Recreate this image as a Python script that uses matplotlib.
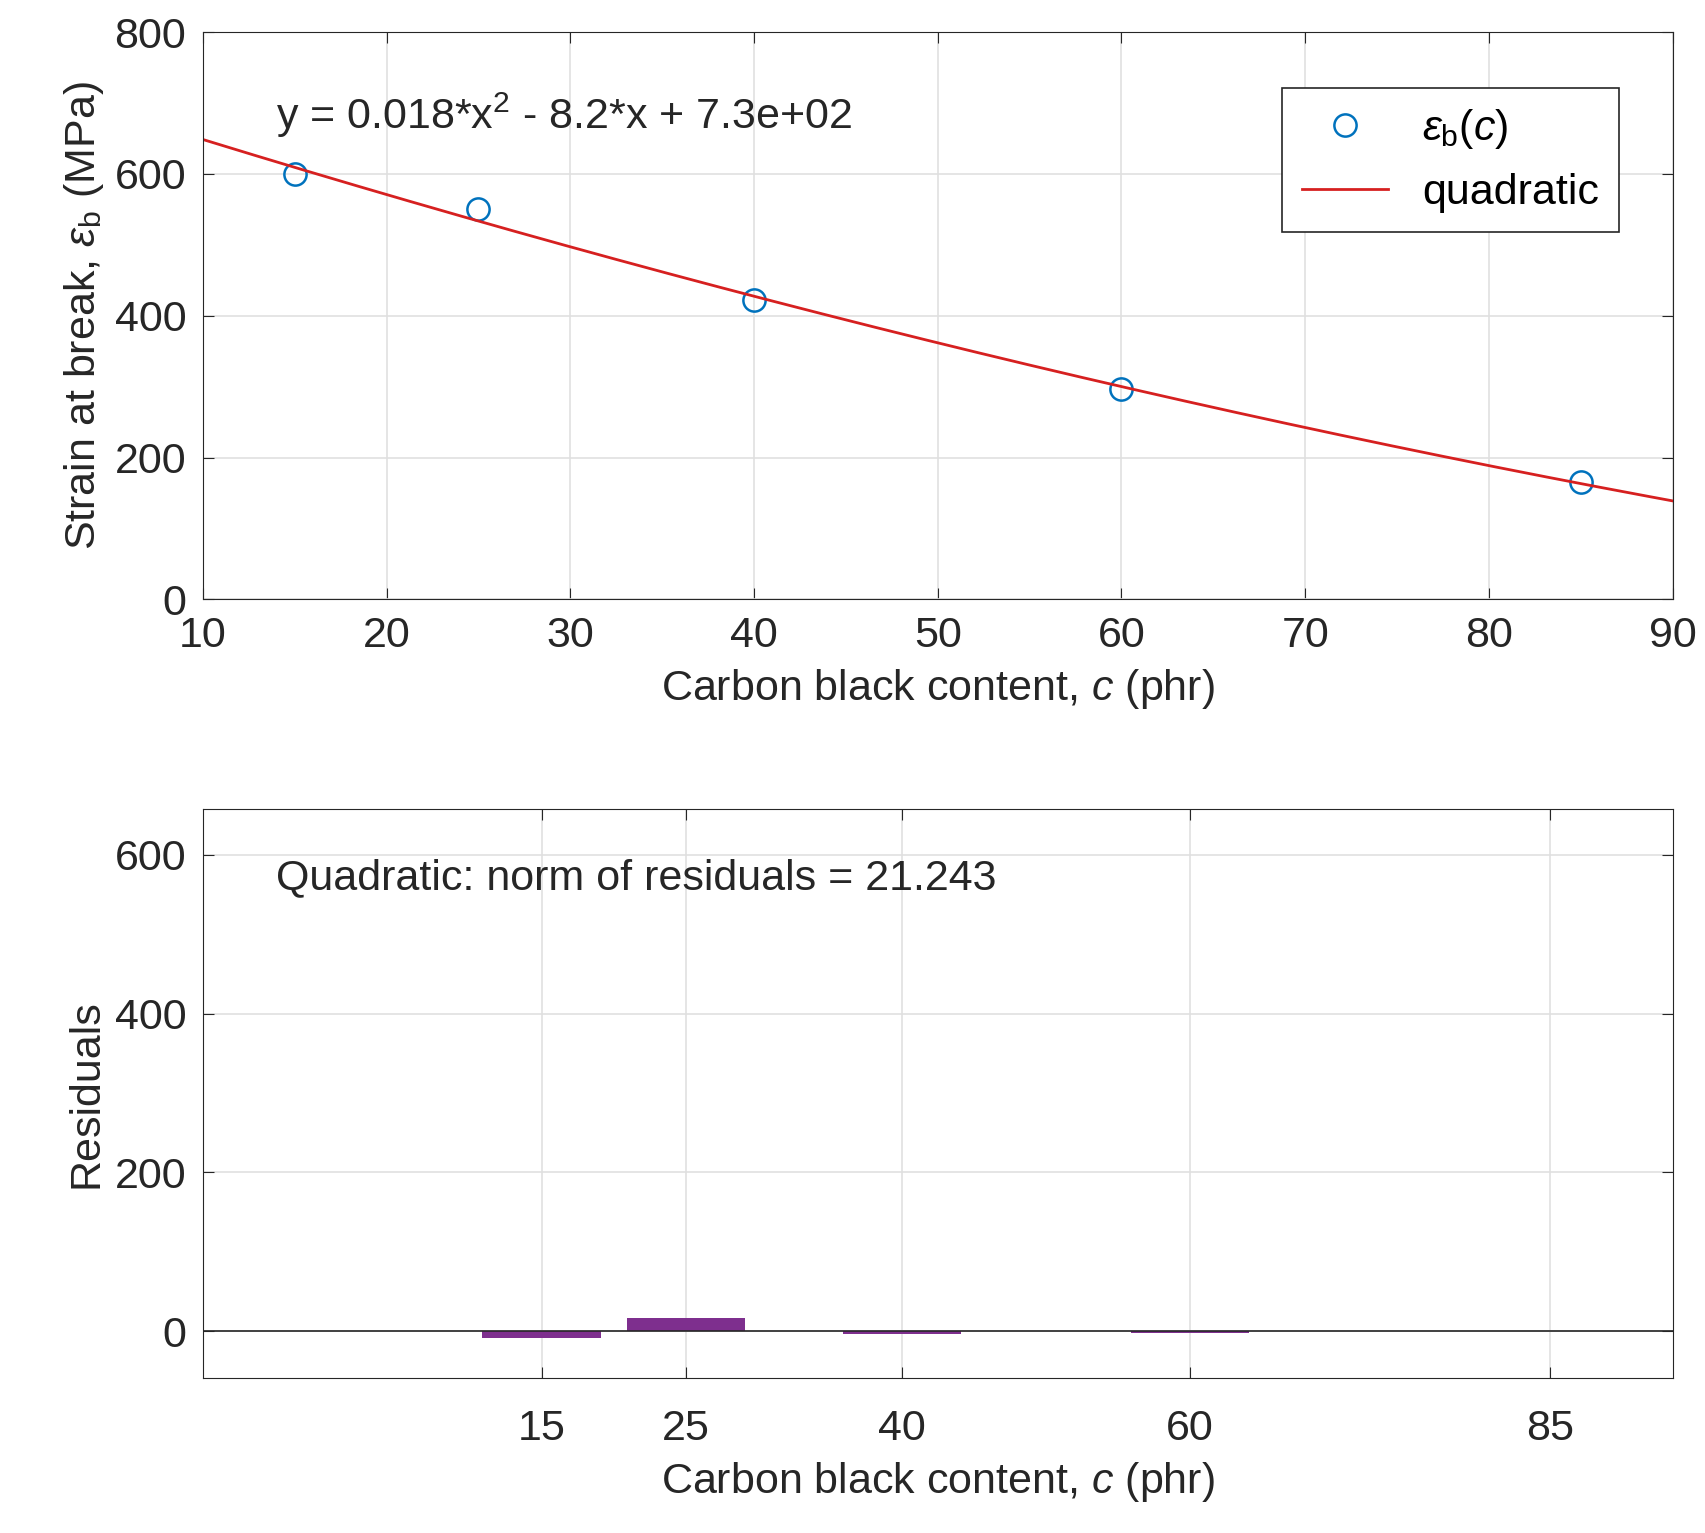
import numpy as np
import matplotlib.pyplot as plt

plt.rcParams['font.family'] = ['Liberation Sans', 'DejaVu Sans']
plt.rcParams['mathtext.fontset'] = 'custom'
plt.rcParams['mathtext.rm'] = 'Liberation Sans'
plt.rcParams['mathtext.it'] = 'Liberation Sans:italic'

# data
carbon = [15, 25, 40, 60, 85]
strain = [600, 550, 422, 297, 165]
residuals = [-8, 17, -3, -2, 1]

coef = np.polyfit(carbon, strain, 2)
xfit = np.linspace(10, 90, 200)
yfit = np.polyval(coef, xfit)

fig = plt.figure(figsize=(17.05, 15.33), dpi=100)
ax1 = fig.add_axes([0.119, 0.609, 0.862, 0.370])
ax2 = fig.add_axes([0.119, 0.101, 0.862, 0.371])

fs = 31
for ax in (ax1, ax2):
    ax.tick_params(direction='in', labelsize=fs, top=True, right=True, length=8,
                   colors='#262626', pad=12)
    ax.grid(True, color='#e0e0e0', linewidth=1.2)
    ax.set_axisbelow(True)
    for s in ax.spines.values():
        s.set_color('#262626')

ax1.plot(carbon, strain, 'o', mfc='none', mec='#0072BD', ms=16, mew=1.8, label=r'$\epsilon_\mathrm{b}(\mathit{c})$')
ax1.plot(xfit, yfit, color='#D62020', lw=2, label='quadratic')
ax1.set_xlim(10, 90)
ax1.set_ylim(0, 800)
ax1.set_xticks(range(10, 91, 10))
ax1.set_yticks(range(0, 801, 200))
ax1.set_xlabel(r'Carbon black content, $\mathit{c}$ (phr)', fontsize=fs, color='#262626', labelpad=8)
ax1.set_ylabel(r'Strain at break, $\epsilon_\mathrm{b}$ (MPa)', fontsize=fs, color='#262626', labelpad=6)
ax1.text(0.05, 0.83, 'y = 0.018*x$^2$ - 8.2*x + 7.3e+02', transform=ax1.transAxes, fontsize=fs, color='#262626')
leg = ax1.legend(loc='upper right', bbox_to_anchor=(0.978, 0.94), fontsize=fs, fancybox=False,
                 edgecolor='#262626', borderpad=0.45, framealpha=1)
leg.get_frame().set_linewidth(1.2)

ax2.bar(carbon, residuals, width=8.2, color='#7E2F8E')
ax2.axhline(0, color='#262626', lw=1.2)
ax2.set_xlim(-8.5, 93.5)
ax2.set_ylim(-59, 657)
ax2.set_xticks(carbon)
ax2.set_yticks([0, 200, 400, 600])
ax2.tick_params(axis='x', pad=22)
ax2.set_xlabel(r'Carbon black content, $\mathit{c}$ (phr)', fontsize=fs, color='#262626', labelpad=8)
ax2.set_ylabel('Residuals', fontsize=fs, color='#262626', labelpad=6)
ax2.text(0.05, 0.86, 'Quadratic: norm of residuals = 21.243', transform=ax2.transAxes, fontsize=fs, color='#262626')

fig.savefig('out.png', dpi=100)
